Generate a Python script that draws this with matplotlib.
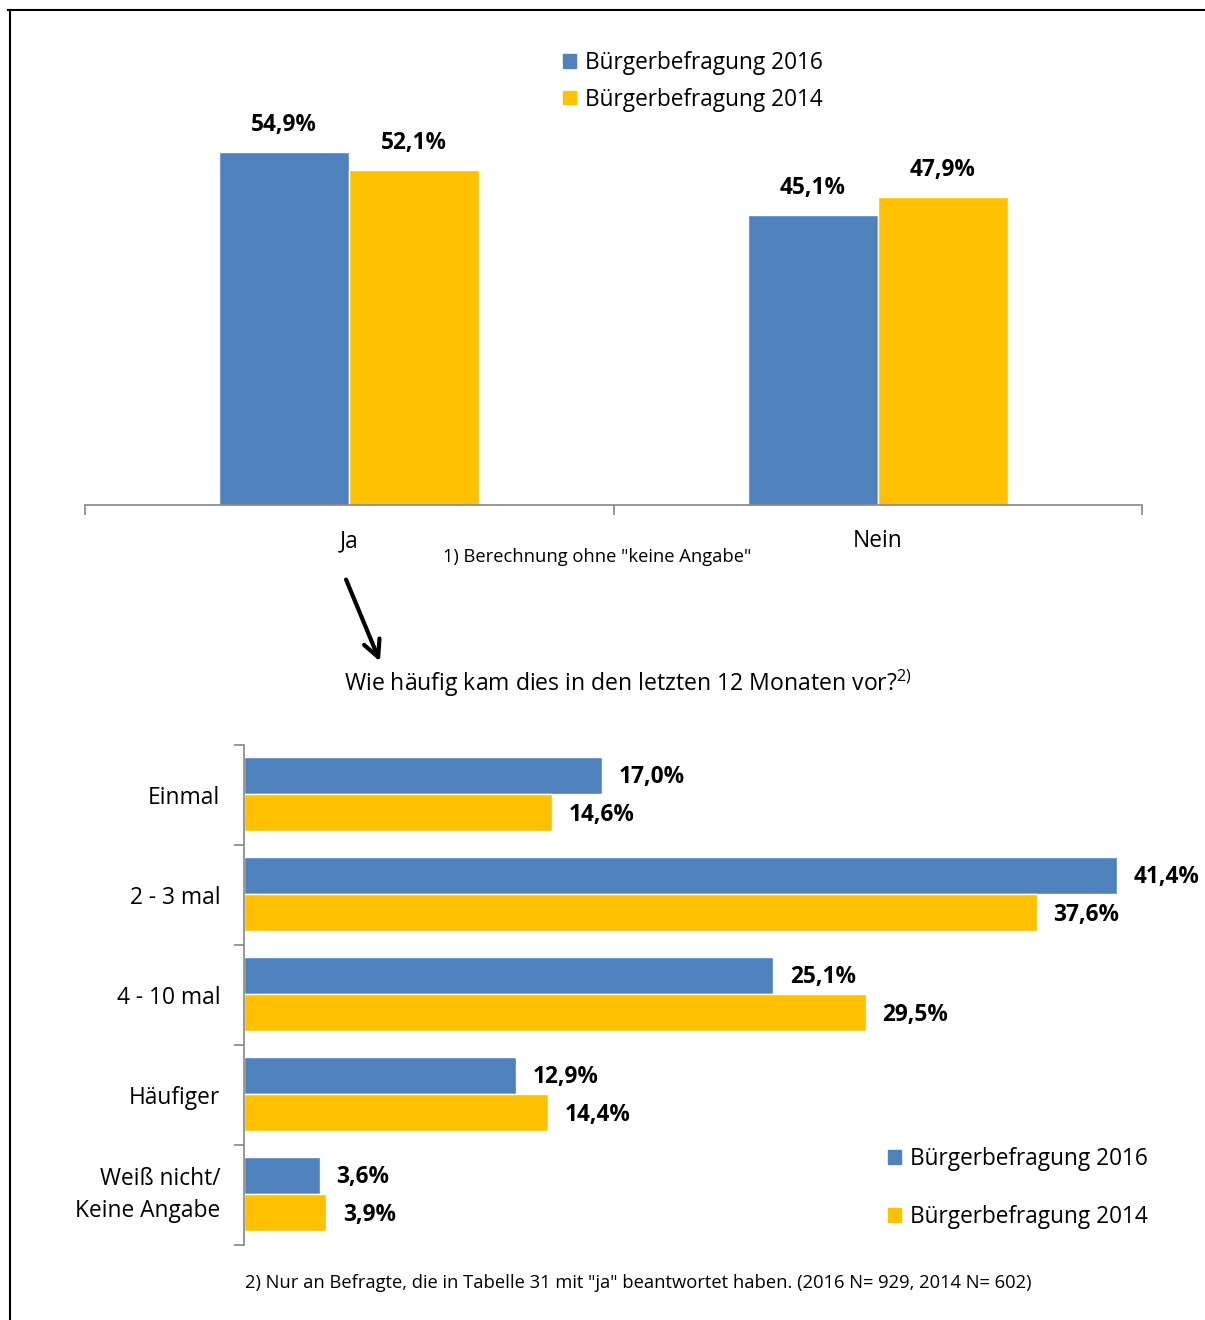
import matplotlib
matplotlib.use("Agg")
import matplotlib.pyplot as plt
from matplotlib.lines import Line2D
from matplotlib.patches import FancyArrowPatch, Patch
import numpy as np

plt.rcParams['font.family'] = ['Open Sans', 'DejaVu Sans']
plt.rcParams['mathtext.fontset'] = 'custom'
plt.rcParams['mathtext.rm'] = 'Open Sans'

# ---- data ----
top_categories = ["Ja", "Nein"]
top_2016 = [54.9, 45.1]
top_2014 = [52.1, 47.9]

bottom_categories = ["Einmal", "2 - 3 mal", "4 - 10 mal", "Häufiger", "Weiß nicht/\nKeine Angabe"]
bottom_2016 = [17.0, 41.4, 25.1, 12.9, 3.6]
bottom_2014 = [14.6, 37.6, 29.5, 14.4, 3.9]

series_labels = ["Bürgerbefragung 2016", "Bürgerbefragung 2014"]
C16 = "#4F81BD"
C14 = "#FFC000"
AXC = "#868686"

W, H = 1205, 1320
fig = plt.figure(figsize=(W / 100, H / 100), dpi=100)


def fx(px):
    return px / W


def fy(py):
    return 1 - py / H


def fmt(v):
    return f"{v:.1f}".replace(".", ",") + "%"


# ---- frame ----
fig.add_artist(Line2D([fx(8), 1], [fy(10), fy(10)], color="black", lw=1.5))
fig.add_artist(Line2D([fx(10), fx(10)], [0, fy(10)], color="black", lw=1.5))

# ---- top chart ----
ax1 = fig.add_axes([fx(85), fy(505), fx(1142) - fx(85), fy(119) - fy(505)])
x = np.arange(len(top_categories))
bw = 0.246
b1 = ax1.bar(x - bw / 2, top_2016, bw, color=C16, edgecolor="white", linewidth=1, label=series_labels[0])
b2 = ax1.bar(x + bw / 2, top_2014, bw, color=C14, edgecolor="white", linewidth=1, label=series_labels[1])
ax1.set_xlim(-0.5, 1.5)
ax1.set_ylim(0, 60)
for s in ["top", "right", "left"]:
    ax1.spines[s].set_visible(False)
ax1.spines["bottom"].set_color(AXC)
ax1.spines["bottom"].set_linewidth(1.2)
ax1.set_yticks([])
ax1.set_xticks([-0.5, 0.5, 1.5])
ax1.set_xticklabels([])
ax1.tick_params(axis="x", which="major", length=7, color=AXC, width=1.2)
ax1.set_xticks(x, minor=True)
ax1.set_xticklabels(top_categories, minor=True, fontsize=16.4)
ax1.tick_params(axis="x", which="minor", length=0, pad=17.5)
for bars, vals in ((b1, top_2016), (b2, top_2014)):
    for r, v in zip(bars, vals):
        ax1.annotate(fmt(v), (r.get_x() + r.get_width() / 2, v), xytext=(0, 19),
                     textcoords="offset points", ha="center", va="center",
                     fontsize=16.3, fontweight="bold")

fig.legend(handles=[Patch(color=C16), Patch(color=C14)], labels=series_labels,
           loc="upper left", bbox_to_anchor=(fx(554), fy(42)), frameon=False,
           fontsize=16.3, handlelength=0.55, handleheight=0.55, handletextpad=0.4,
           labelspacing=0.55, borderaxespad=0)

fig.text(fx(597), fy(557), '1) Berechnung ohne "keine Angabe"', ha="center", va="center", fontsize=13.2)

# arrow
fig.add_artist(FancyArrowPatch((fx(345), fy(577)), (fx(381), fy(664)), transform=fig.transFigure,
                               arrowstyle="->,head_length=8,head_width=4", lw=3, color="black",
                               mutation_scale=1.5))

fig.text(fx(628), fy(683), "Wie häufig kam dies in den letzten 12 Monaten vor?$^{2)}$",
         ha="center", va="center", fontsize=16.6)

# ---- bottom chart ----
ax2 = fig.add_axes([fx(244), fy(1245), fx(244 + 45 * 21.08) - fx(244), fy(745) - fy(1245)])
y = np.arange(len(bottom_categories))
bh = 0.37
c1 = ax2.barh(y - 0.2, bottom_2016, bh, color=C16, edgecolor="white", linewidth=1)
c2 = ax2.barh(y + 0.175, bottom_2014, bh, color=C14, edgecolor="white", linewidth=1)
ax2.set_ylim(4.5, -0.5)
ax2.set_xlim(0, 45)
for s in ["top", "right", "bottom"]:
    ax2.spines[s].set_visible(False)
ax2.spines["left"].set_color(AXC)
ax2.spines["left"].set_linewidth(1.2)
ax2.set_xticks([])
ax2.set_yticks(np.arange(-0.5, 5, 1.0))
ax2.set_yticklabels([])
ax2.tick_params(axis="y", which="major", length=7, color=AXC, width=1.2)
ax2.set_yticks(y, minor=True)
ax2.set_yticklabels(bottom_categories, minor=True, fontsize=16.4, multialignment="right",
                    linespacing=1.45)
ax2.tick_params(axis="y", which="minor", length=0, pad=17)
ax2.get_yticklabels(minor=True)[-1].set_va("center")
for bars, vals in ((c1, bottom_2016), (c2, bottom_2014)):
    for r, v in zip(bars, vals):
        ax2.annotate(fmt(v), (v, r.get_y() + r.get_height() / 2), xytext=(12, -1.5),
                     textcoords="offset points", ha="left", va="center",
                     fontsize=16.3, fontweight="bold")

fig.legend(handles=[Patch(color=C16), Patch(color=C14)], labels=series_labels,
           loc="upper left", bbox_to_anchor=(fx(879), fy(1138)), frameon=False,
           fontsize=16.3, handlelength=0.55, handleheight=0.55, handletextpad=0.4,
           labelspacing=1.5, borderaxespad=0)

fig.text(fx(638), fy(1283), '2) Nur an Befragte, die in Tabelle 31 mit "ja" beantwortet haben. (2016 N= 929, 2014 N= 602)',
         ha="center", va="center", fontsize=13.2)

fig.savefig("out.png", dpi=100)
